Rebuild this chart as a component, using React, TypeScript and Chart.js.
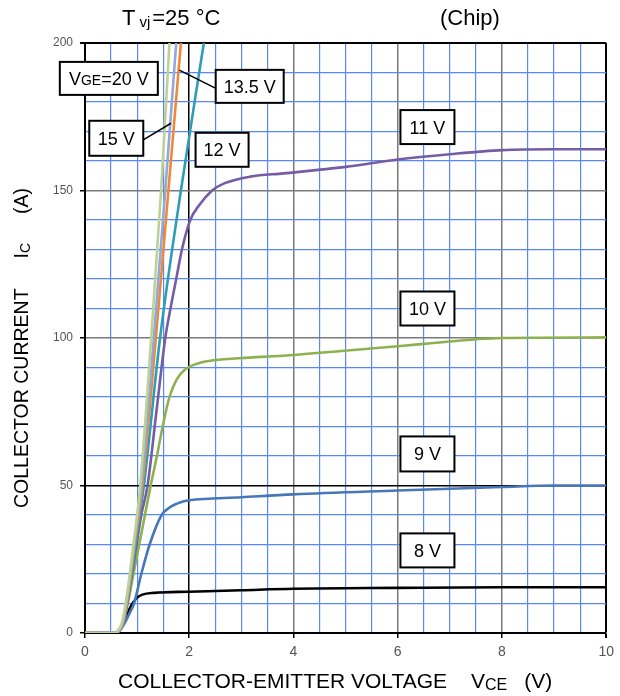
import React, { useEffect, useRef } from 'react';
import { Chart, registerables } from 'chart.js';

Chart.register(...registerables);

// ---- data ----
const vce8 = [0, 0.55, 0.65, 0.75, 0.85, 0.91, 1.0, 1.1, 1.33, 2, 3, 4, 6, 8, 10];
const ic8 = [0, 0, 1, 4, 8, 10, 12, 13, 13.6, 14, 14.5, 15, 15.3, 15.5, 15.5];

const vce9 = [0, 0.55, 0.65, 0.75, 0.85, 0.94, 1.08, 1.24, 1.47, 1.62, 1.85, 2, 3, 4, 6, 8, 9, 10];
const ic9 = [0, 0, 0.5, 3, 6.5, 10, 20, 30, 40, 42.5, 44.4, 45, 46, 47, 48.3, 49.5, 50, 50];

const vce10 = [0, 0.55, 0.64, 0.73, 0.82, 0.93, 1.04, 1.15, 1.26, 1.38, 1.49, 1.62, 1.76, 1.93, 2.15, 2.5, 3, 3.8, 5.6, 6.5, 8, 10];
const ic10 = [0, 0, 0.5, 3, 10, 20, 30, 40, 50, 60, 70, 80, 86, 89.5, 91.3, 92.5, 93.2, 94, 96.6, 98, 100, 100.2];

const vce11 = [0, 0.55, 0.64, 0.73, 0.81, 0.9, 0.99, 1.08, 1.2, 1.37, 1.54, 1.64, 1.75, 1.86, 2.02, 2.19, 2.44, 2.67, 3.17, 3.81, 5, 6, 7, 8, 9, 10];
const ic11 = [0, 0, 0.5, 3, 10, 20, 30, 40, 50, 75, 100, 110, 120, 130, 140, 145, 150, 152.4, 154.7, 155.8, 158, 160.5, 162.3, 163.7, 164, 164];

const vce12 = [0, 0.55, 0.64, 0.72, 0.8, 0.89, 0.97, 1.05, 1.13, 1.44, 1.84, 2.28];
const ic12 = [0, 0, 0.5, 3, 10, 20, 30, 40, 50, 100, 150, 200];

const vce135 = [0, 0.55, 0.63, 0.72, 0.8, 0.88, 0.95, 1.03, 1.1, 1.36, 1.6, 1.84];
const ic135 = [0, 0, 0.5, 3, 10, 20, 30, 40, 50, 100, 150, 200];

const vce15 = [0, 0.55, 0.63, 0.71, 0.79, 0.87, 0.94, 1.01, 1.08, 1.32, 1.54, 1.75];
const ic15 = [0, 0, 0.5, 3, 10, 20, 30, 40, 50, 100, 150, 200];

const vce20 = [0, 0.55, 0.62, 0.7, 0.78, 0.86, 0.93, 1.0, 1.06, 1.27, 1.46, 1.62];
const ic20 = [0, 0, 0.5, 3, 10, 20, 30, 40, 50, 100, 150, 200];

const xTickLabels = [0, 2, 4, 6, 8, 10];
const yTickLabels = [0, 50, 100, 150, 200];

// ---- annotations (label boxes, in data coordinates) ----
type Part = { t: string; sub?: boolean };
const labelBoxes: { parts: Part[]; x: number; y: number; w: number; h: number }[] = [
  { parts: [{ t: 'V' }, { t: 'GE', sub: true }, { t: '=20 V' }], x: 0.457, y: 188, w: 98, h: 33 },
  { parts: [{ t: '13.5 V' }], x: 3.16, y: 185.3, w: 68, h: 33 },
  { parts: [{ t: '15 V' }], x: 0.6, y: 167.7, w: 54, h: 35 },
  { parts: [{ t: '12 V' }], x: 2.63, y: 163.8, w: 53, h: 34 },
  { parts: [{ t: '11 V' }], x: 6.57, y: 171.5, w: 54, h: 34 },
  { parts: [{ t: '10 V' }], x: 6.57, y: 110, w: 54, h: 34 },
  { parts: [{ t: '9 V' }], x: 6.57, y: 60.7, w: 54, h: 35 },
  { parts: [{ t: '8 V' }], x: 6.57, y: 28, w: 54, h: 34 },
];
const leaders = [
  { from: [2.51, 184.6], to: [1.81, 190.8] },
  { from: [1.11, 167.1], to: [1.65, 172.8] },
];

const FONT = '"Liberation Sans", Arial, Helvetica, sans-serif';

function zip(xs: number[], ys: number[]) {
  return xs.map((x, i) => ({ x, y: ys[i] }));
}

type RichPart = { t: string; size: number; dy?: number; gap?: number };
function drawRich(ctx: CanvasRenderingContext2D, parts: RichPart[], x: number, y: number) {
  let cx = x;
  for (const p of parts) {
    cx += p.gap || 0;
    ctx.font = `${p.size}px ${FONT}`;
    ctx.fillText(p.t, cx, y + (p.dy || 0));
    cx += ctx.measureText(p.t).width;
  }
}
function richWidth(ctx: CanvasRenderingContext2D, parts: RichPart[]) {
  let w = 0;
  for (const p of parts) {
    w += p.gap || 0;
    ctx.font = `${p.size}px ${FONT}`;
    w += ctx.measureText(p.t).width;
  }
  return w;
}

const overlayPlugin = {
  id: 'overlay',
  afterDraw(chart: any) {
    const ctx: CanvasRenderingContext2D = chart.ctx;
    const xs = chart.scales.x;
    const ys = chart.scales.y;
    ctx.save();
    ctx.fillStyle = '#000';
    ctx.textBaseline = 'alphabetic';
    ctx.textAlign = 'left';

    // leaders
    ctx.strokeStyle = '#000';
    ctx.lineWidth = 1.5;
    for (const l of leaders) {
      ctx.beginPath();
      ctx.moveTo(xs.getPixelForValue(l.from[0]), ys.getPixelForValue(l.from[1]));
      ctx.lineTo(xs.getPixelForValue(l.to[0]), ys.getPixelForValue(l.to[1]));
      ctx.stroke();
    }

    // boxes
    for (const b of labelBoxes) {
      const cx = xs.getPixelForValue(b.x);
      const cy = ys.getPixelForValue(b.y);
      ctx.fillStyle = '#fff';
      ctx.fillRect(cx - b.w / 2, cy - b.h / 2, b.w, b.h);
      ctx.strokeStyle = '#000';
      ctx.lineWidth = 2;
      ctx.strokeRect(cx - b.w / 2, cy - b.h / 2, b.w, b.h);
      const rp: RichPart[] = b.parts.map((p) => ({ t: p.t, size: p.sub ? 14 : 18 }));
      const w = richWidth(ctx, rp);
      ctx.fillStyle = '#000';
      drawRich(ctx, rp, cx - w / 2, cy + 6.5);
    }

    // top titles
    drawRich(ctx, [
      { t: 'T', size: 22 },
      { t: 'vj', size: 15, dy: 2, gap: 4 },
      { t: '=25 °C', size: 22, gap: 2 },
    ], 122, 25);
    drawRich(ctx, [{ t: '(Chip)', size: 22 }], 440, 25);

    // x axis title
    drawRich(ctx, [
      { t: 'COLLECTOR-EMITTER VOLTAGE', size: 21 },
      { t: 'V', size: 21, gap: 24 },
      { t: 'CE', size: 16, dy: 2 },
      { t: '(V)', size: 21, gap: 17 },
    ], 118, 688);

    // y axis title (rotated)
    ctx.translate(28, 508);
    ctx.rotate(-Math.PI / 2);
    drawRich(ctx, [
      { t: 'COLLECTOR CURRENT', size: 19.5 },
      { t: 'I', size: 19.5, gap: 30 },
      { t: 'C', size: 14, dy: 2 },
      { t: '(A)', size: 19.5, gap: 29 },
    ], 0, 0);
    ctx.restore();
  },
};

const BLUE = '#5a88f2';

export default function App() {
  const ref = useRef<HTMLCanvasElement>(null);
  useEffect(() => {
    if (!ref.current) return;
    const ds = (label: string, xs: number[], ys: number[], color: string) => ({
      label,
      data: zip(xs, ys),
      borderColor: color,
      backgroundColor: color,
      borderWidth: 2.6,
      pointRadius: 0,
      fill: false,
      cubicInterpolationMode: 'monotone' as const,
    });
    const chart = new Chart(ref.current, {
      type: 'line',
      data: {
        datasets: [
          ds('20 V', vce20, ic20, '#bcd394'),
          ds('15 V', vce15, ic15, '#93a8d8'),
          ds('13.5 V', vce135, ic135, '#ec8a3a'),
          ds('12 V', vce12, ic12, '#2f9db5'),
          ds('11 V', vce11, ic11, '#755ca4'),
          ds('10 V', vce10, ic10, '#8db14e'),
          ds('9 V', vce9, ic9, '#4777b9'),
          ds('8 V', vce8, ic8, '#000000'),
        ],
      },
      options: {
        responsive: false,
        animation: false,
        layout: { padding: { top: 43, right: 10, left: 0, bottom: 0 } },
        plugins: { legend: { display: false }, tooltip: { enabled: false } },
        scales: {
          x: {
            type: 'linear',
            min: 0,
            max: 10,
            afterFit: (s: any) => { s.height = 63; },
            ticks: {
              stepSize: 0.5,
              autoSkip: false,
              maxRotation: 0,
              padding: 6,
              color: '#555',
              font: { size: 14, family: FONT },
              callback: (v: any) => (xTickLabels.includes(Number(v)) ? String(v) : ''),
            },
            grid: {
              color: (c: any) => {
                const v = c.tick ? c.tick.value : 0;
                if (v === 10 || v === 2) return '#000';
                return xTickLabels.includes(v) ? '#7a7a7a' : BLUE;
              },
              lineWidth: (c: any) => {
                const v = c.tick ? c.tick.value : 0;
                if (v === 10) return 2;
                return xTickLabels.includes(v) ? 1.5 : 1.2;
              },
              tickLength: 5,
              tickColor: (c: any) => (c.tick && xTickLabels.includes(c.tick.value) ? '#000' : 'rgba(0,0,0,0)'),
            },
            border: { display: true, color: '#000', width: 2 },
          },
          y: {
            type: 'linear',
            min: 0,
            max: 200,
            afterFit: (s: any) => { s.width = 85; },
            ticks: {
              stepSize: 10,
              autoSkip: false,
              padding: 7,
              color: '#555',
              font: { size: 12, family: FONT },
              callback: (v: any) => (yTickLabels.includes(Number(v)) ? String(v) : ''),
            },
            grid: {
              color: (c: any) => {
                const v = c.tick ? c.tick.value : 0;
                if (v === 200 || v === 50) return '#000';
                return yTickLabels.includes(v) ? '#7a7a7a' : BLUE;
              },
              lineWidth: (c: any) => {
                const v = c.tick ? c.tick.value : 0;
                if (v === 200) return 2;
                return yTickLabels.includes(v) ? 1.5 : 1.2;
              },
              tickLength: 5,
              tickColor: (c: any) => (c.tick && yTickLabels.includes(c.tick.value) ? '#000' : 'rgba(0,0,0,0)'),
            },
            border: { display: true, color: '#000', width: 2 },
          },
        },
      },
      plugins: [overlayPlugin],
    });
    return () => chart.destroy();
  }, []);
  return (
    <div style={{ position: 'absolute', left: 0, top: 0, width: 620, height: 696, background: '#fff' }}>
      <canvas ref={ref} width={620} height={696} style={{ display: 'block' }} />
    </div>
  );
}
